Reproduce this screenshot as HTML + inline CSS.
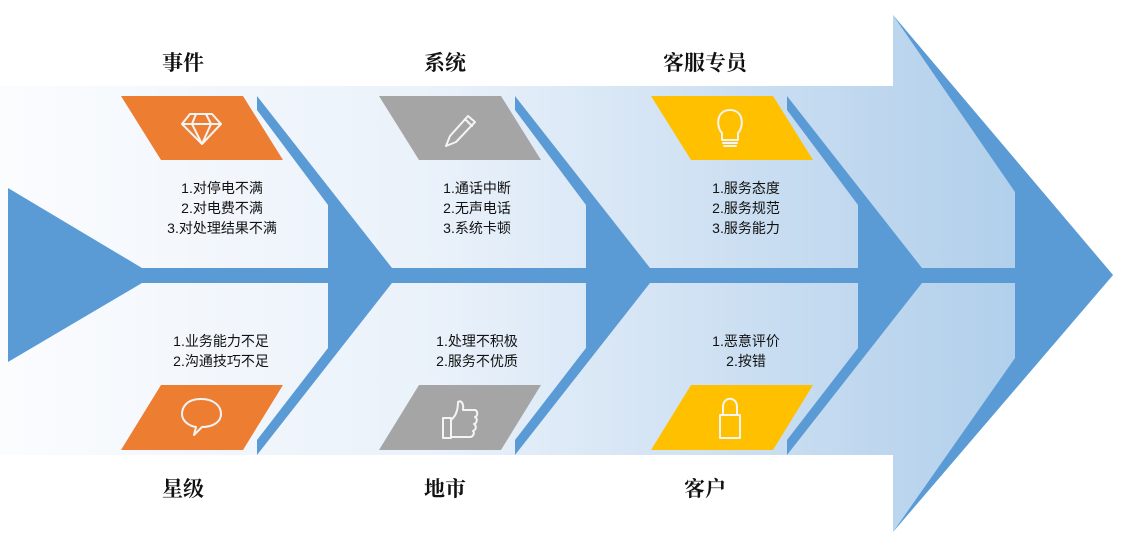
<!DOCTYPE html>
<html><head><meta charset="utf-8"><style>
body{margin:0;width:1124px;height:548px;background:#fff;overflow:hidden}
svg{display:block}
.t{font-family:"Liberation Serif","Noto Serif CJK SC",serif;font-size:21px;font-weight:bold;fill:#111}
.l{font-family:"Liberation Sans","Noto Sans CJK SC",sans-serif;font-size:14px;fill:#111}
.ic{fill:none;stroke:#f4f4f4;stroke-width:2;stroke-linejoin:round;stroke-linecap:round}
</style></head><body>
<svg width="1124" height="548" viewBox="0 0 1124 548">
<defs><linearGradient id="g" x1="0" x2="1" y1="0" y2="0">
<stop offset="0" stop-color="#fbfcfe"/><stop offset="0.4" stop-color="#e9f1fa"/><stop offset="0.8" stop-color="#bdd6ee"/><stop offset="1" stop-color="#a9cbe9"/></linearGradient></defs>
<polygon points="0,86 893,86 893,15 1113,275 893,532 893,455 0,455" fill="url(#g)"/>
<polygon points="893,15 1113,275 893,532 1015,358 1015,192" fill="#5b9bd5"/>
<rect x="140" y="268" width="876" height="15" fill="#5b9bd5"/>
<polygon points="8,188 142,268 142,283 8,362" fill="#5b9bd5"/>
<g fill="#5b9bd5">
<polygon points="257,96 392,268 392,283 257,455 257,440 328,348 328,205 257,110"/>
<polygon points="515,96 650,268 650,283 515,455 515,440 586,348 586,205 515,110"/>
<polygon points="787,96 922,268 922,283 787,455 787,440 858,348 858,205 787,110"/>
</g>
<polygon points="121,96 243,96 283,160 161,160" fill="#ed7d31"/>
<polygon points="161,385 283,385 243,450 121,450" fill="#ed7d31"/>
<polygon points="379,96 501,96 541,160 419,160" fill="#a5a5a5"/>
<polygon points="419,385 541,385 501,450 379,450" fill="#a5a5a5"/>
<polygon points="651,96 773,96 813,160 691,160" fill="#ffc000"/>
<polygon points="691,385 813,385 773,450 651,450" fill="#ffc000"/>
<g class="ic">
<path d="M190,114 L212,114 L221,124 L202,144 L182,124 Z M182,124 L221,124 M196,114 L192,124 L202,144 L211,124 L206,114"/>
<path d="M201,399 C186,399 182,408 182,414 C182,421 189,426 196,427 L194,435 L202,427 C213,427 221,422 221,414 C221,406 214,399 201,399 Z"/>
<path d="M446,146 L450,136 L468,116 L475,122 L456,142 Z M446,146 L456,142 M465,119 L472,126"/>
<path d="M443,418 L451,418 L451,438 L443,438 Z M451,420 C456,416 458,410 458,402 C461,400 464,403 463,410 L475,410 C478,411 478,416 475,417 C478,419 477,423 474,424 C477,426 476,430 473,431 C475,433 473,437 470,437 L452,437"/>
<path d="M722,133 C716,127 716,110 730,110 C744,110 744,127 738,133 L738,140 L722,140 Z M723,143 L737,143 M724,146 L736,146"/>
<path d="M720,415 L740,415 L740,438 L720,438 Z M723,415 L723,407 C723,396 737,396 737,407 L737,415"/>
</g>
<text class="t" x="183" y="70" text-anchor="middle">事件</text>
<text class="t" x="445" y="70" text-anchor="middle">系统</text>
<text class="t" x="705" y="70" text-anchor="middle">客服专员</text>
<text class="t" x="183" y="496" text-anchor="middle">星级</text>
<text class="t" x="445" y="496" text-anchor="middle">地市</text>
<text class="t" x="705" y="496" text-anchor="middle">客户</text>
<g class="l" text-anchor="middle">
<text x="222" y="193">1.对停电不满</text>
<text x="222" y="213">2.对电费不满</text>
<text x="222" y="233">3.对处理结果不满</text>
<text x="221" y="346">1.业务能力不足</text>
<text x="221" y="366">2.沟通技巧不足</text>
<text x="477" y="193">1.通话中断</text>
<text x="477" y="213">2.无声电话</text>
<text x="477" y="233">3.系统卡顿</text>
<text x="477" y="346">1.处理不积极</text>
<text x="477" y="366">2.服务不优质</text>
<text x="746" y="193">1.服务态度</text>
<text x="746" y="213">2.服务规范</text>
<text x="746" y="233">3.服务能力</text>
<text x="746" y="346">1.恶意评价</text>
<text x="746" y="366">2.按错</text>
</g>
</svg>
</body></html>
